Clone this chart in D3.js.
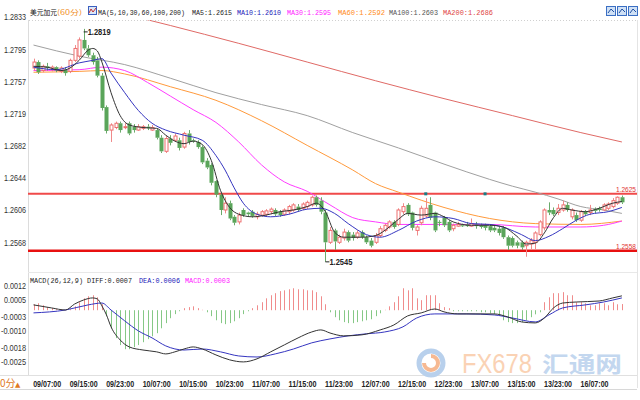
<!DOCTYPE html>
<html><head><meta charset="utf-8">
<script src="https://cdn.jsdelivr.net/npm/d3@7"></script>
<style>html,body{margin:0;padding:0;background:#fff;overflow:hidden}svg{display:block}</style>
</head><body><svg id="c" width="640" height="400"></svg>
<script>
// ---------- data (USD/CAD, 60 min bars) ----------
const opens = [1.2773,1.2780,1.2770,1.2775,1.2771,1.2774,1.2769,1.2771,1.2769,1.2782,
1.2787,1.2806,1.2796,1.2788,1.2782,1.2764,1.2727,1.2700,1.2703,1.2708,
1.2703,1.2708,1.2704,1.2700,1.2702,1.2704,1.2700,1.2700,1.2691,1.2675,
1.2690,1.2688,1.2688,1.2680,1.2696,1.2688,1.2686,1.2680,1.2664,1.2659,
1.2640,1.2624,1.2606,1.2614,1.2598,1.2592,1.2606,1.2603,1.2604,1.2598,
1.2600,1.2601,1.2604,1.2606,1.2604,1.2601,1.2604,1.2606,1.2610,1.2608,
1.2610,1.2612,1.2621,1.2617,1.2603,1.2568,1.2582,1.2568,1.2573,1.2580,
1.2577,1.2574,1.2580,1.2574,1.2570,1.2568,1.2576,1.2582,1.2586,1.2592,
1.2589,1.2604,1.2612,1.2603,1.2582,1.2591,1.2599,1.2612,1.2603,1.2592,
1.2597,1.2592,1.2584,1.2587,1.2588,1.2589,1.2587,1.2589,1.2588,1.2588,
1.2587,1.2585,1.2584,1.2585,1.2574,1.2573,1.2568,1.2568,1.2564,1.2566,
1.2568,1.2577,1.2585,1.2606,1.2606,1.2603,1.2606,1.2612,1.2598,1.2600,
1.2594,1.2604,1.2603,1.2607,1.2608,1.2606,1.2608,1.2610,1.2614,1.2621];
const closes = [1.2780,1.2768,1.2775,1.2773,1.2774,1.2770,1.2773,1.2767,1.2782,1.2796,
1.2806,1.2796,1.2788,1.2780,1.2764,1.2726,1.2699,1.2706,1.2708,1.2700,
1.2704,1.2696,1.2700,1.2704,1.2704,1.2702,1.2703,1.2691,1.2675,1.2690,
1.2685,1.2693,1.2679,1.2696,1.2686,1.2687,1.2680,1.2662,1.2656,1.2638,
1.2624,1.2606,1.2614,1.2596,1.2591,1.2600,1.2600,1.2601,1.2599,1.2601,
1.2604,1.2605,1.2607,1.2601,1.2600,1.2606,1.2610,1.2612,1.2606,1.2613,
1.2615,1.2621,1.2612,1.2604,1.2568,1.2582,1.2569,1.2574,1.2580,1.2570,
1.2573,1.2579,1.2574,1.2568,1.2564,1.2576,1.2584,1.2588,1.2592,1.2586,
1.2606,1.2610,1.2601,1.2585,1.2586,1.2608,1.2608,1.2597,1.2582,1.2591,
1.2588,1.2582,1.2588,1.2589,1.2587,1.2587,1.2590,1.2587,1.2586,1.2585,
1.2582,1.2582,1.2579,1.2574,1.2564,1.2564,1.2564,1.2562,1.2568,1.2570,
1.2579,1.2592,1.2606,1.2603,1.2601,1.2608,1.2612,1.2606,1.2606,1.2594,
1.2604,1.2601,1.2606,1.2605,1.2606,1.2612,1.2613,1.2617,1.2621,1.2615];
const highs = [1.2784,1.2782,1.2777,1.2779,1.2776,1.2775,1.2775,1.2774,1.2784,1.2800,
1.2809,1.2819,1.2800,1.2791,1.2786,1.2767,1.2729,1.2708,1.2710,1.2710,
1.2708,1.2710,1.2707,1.2707,1.2706,1.2707,1.2706,1.2702,1.2694,1.2693,
1.2694,1.2696,1.2691,1.2698,1.2700,1.2690,1.2688,1.2682,1.2667,1.2661,
1.2641,1.2626,1.2621,1.2617,1.2600,1.2603,1.2608,1.2604,1.2606,1.2604,
1.2606,1.2607,1.2609,1.2608,1.2606,1.2608,1.2612,1.2614,1.2613,1.2615,
1.2617,1.2623,1.2623,1.2621,1.2606,1.2586,1.2584,1.2577,1.2584,1.2582,
1.2580,1.2582,1.2582,1.2576,1.2573,1.2579,1.2587,1.2590,1.2594,1.2594,
1.2608,1.2614,1.2614,1.2604,1.2588,1.2611,1.2620,1.2621,1.2604,1.2594,
1.2599,1.2594,1.2590,1.2592,1.2590,1.2592,1.2596,1.2592,1.2590,1.2590,
1.2589,1.2587,1.2586,1.2587,1.2576,1.2575,1.2570,1.2570,1.2570,1.2573,
1.2581,1.2594,1.2608,1.2615,1.2609,1.2613,1.2617,1.2615,1.2608,1.2603,
1.2606,1.2606,1.2612,1.2609,1.2610,1.2614,1.2615,1.2620,1.2622,1.2623];
const lows = [1.2770,1.2766,1.2768,1.2770,1.2769,1.2768,1.2767,1.2764,1.2767,1.2780,
1.2784,1.2794,1.2786,1.2777,1.2762,1.2723,1.2696,1.2686,1.2701,1.2697,
1.2701,1.2694,1.2697,1.2699,1.2700,1.2700,1.2699,1.2689,1.2673,1.2673,
1.2682,1.2686,1.2676,1.2678,1.2683,1.2685,1.2678,1.2660,1.2654,1.2635,
1.2621,1.2600,1.2602,1.2594,1.2588,1.2589,1.2598,1.2599,1.2597,1.2595,
1.2598,1.2599,1.2601,1.2599,1.2598,1.2599,1.2601,1.2604,1.2604,1.2606,
1.2607,1.2610,1.2610,1.2601,1.2545,1.2566,1.2559,1.2566,1.2570,1.2568,
1.2570,1.2572,1.2572,1.2566,1.2562,1.2566,1.2574,1.2580,1.2584,1.2584,
1.2587,1.2601,1.2599,1.2582,1.2576,1.2588,1.2597,1.2594,1.2580,1.2587,
1.2586,1.2580,1.2581,1.2586,1.2586,1.2586,1.2586,1.2584,1.2584,1.2582,
1.2580,1.2580,1.2576,1.2572,1.2559,1.2562,1.2561,1.2559,1.2551,1.2559,
1.2559,1.2575,1.2582,1.2600,1.2599,1.2600,1.2604,1.2604,1.2595,1.2592,
1.2592,1.2599,1.2600,1.2602,1.2604,1.2605,1.2606,1.2608,1.2612,1.2613];

// moving averages, read at bar index: [index, value]
const ma5 = [[0,1.2775],[3,1.2774],[6,1.2770],[8,1.2773],[10,1.2782],[12,1.2794],[13,1.2796],[14,1.2793],[15,1.2780],[17,1.2744],[19,1.2717],[21,1.2706],[24,1.2703],[27,1.2702],[29,1.2694],[31,1.2687],[33,1.2684],[35,1.2687],[37,1.2683],[39,1.2664],[41,1.2629],[43,1.2609],[45,1.2601],[48,1.2598],[51,1.2600],[54,1.2604],[57,1.2606],[60,1.2610],[62,1.2614],[64,1.2604],[66,1.2580],[68,1.2574],[72,1.2574],[75,1.2576],[78,1.2586],[80,1.2595],[82,1.2602],[85,1.2600],[88,1.2602],[90,1.2598],[92,1.2592],[96,1.2588],[100,1.2588],[103,1.2586],[106,1.2575],[108,1.2566],[110,1.2567],[112,1.2579],[114,1.2597],[116,1.2608],[118,1.2606],[121,1.2604],[124,1.2608],[127,1.2614],[129,1.2616]];
const ma10 = [[0,1.2774],[5,1.2771],[10,1.2779],[13,1.2782],[15,1.2784],[17,1.2767],[20,1.2744],[23,1.2723],[26,1.2708],[29,1.2700],[33,1.2694],[37,1.2688],[40,1.2670],[42,1.2653],[44,1.2632],[46,1.2614],[49,1.2601],[52,1.2598],[56,1.2601],[60,1.2607],[63,1.2608],[66,1.2602],[69,1.2590],[73,1.2577],[76,1.2574],[80,1.2582],[84,1.2593],[88,1.2598],[92,1.2596],[96,1.2590],[100,1.2589],[104,1.2584],[107,1.2577],[110,1.2570],[113,1.2575],[116,1.2584],[119,1.2594],[122,1.2601],[126,1.2604],[129,1.2609]];
const ma30 = [[0,1.2770],[10,1.2771],[15,1.2774],[20,1.2770],[25,1.2756],[30,1.2740],[35,1.2724],[40,1.2709],[45,1.2686],[50,1.2659],[55,1.2639],[60,1.2628],[65,1.2612],[70,1.2597],[75,1.2592],[80,1.2589],[90,1.2589],[100,1.2589],[110,1.2586],[120,1.2586],[125,1.2588],[129,1.2593]];
const ma60 = [[0,1.2768],[10,1.2769],[15,1.2770],[20,1.2766],[30,1.2751],[40,1.2735],[50,1.2711],[60,1.2682],[70,1.2653],[75,1.2637],[80,1.2627],[90,1.2609],[100,1.2596],[110,1.2590],[120,1.2589],[129,1.2593]];
const ma100 = [[0,1.2800],[10,1.2787],[20,1.2777],[30,1.2761],[40,1.2744],[50,1.2730],[60,1.2717],[70,1.2697],[80,1.2679],[90,1.2660],[100,1.2642],[105,1.2634],[110,1.2627],[115,1.2619],[120,1.2610],[125,1.2606],[129,1.2602]];
const ma200 = [[0,1.2863],[15,1.2843],[30,1.2823],[45,1.2802],[60,1.2780],[75,1.2758],[90,1.2737],[105,1.2717],[120,1.2697],[129,1.2686]];

// MACD(26,12,9)
const macdHist = [0.00029,0.00034,0.00024,0.00015,0.0001,0.00005,0.00005,0.00002,0.00005,0.00019,
0.00039,0.00058,0.00068,0.00073,0.00063,0.00029,-0.00029,-0.00088,-0.00136,-0.0017,
-0.0019,-0.0019,-0.0018,-0.0017,-0.00156,-0.00141,-0.00127,-0.00112,-0.00088,-0.00063,
-0.00039,-0.00019,-0.00005,0.0001,0.00015,0.00019,0.0001,0.00002,-0.0001,-0.00029,
-0.00049,-0.00063,-0.00068,-0.00063,-0.00054,-0.00039,-0.00019,-0.00005,0.0001,0.00024,
0.00039,0.00058,0.00073,0.00083,0.00093,0.00097,0.00102,0.00107,0.00102,0.00102,
0.00097,0.00097,0.00088,0.00068,0.00029,-0.0001,-0.00034,-0.00049,-0.00058,-0.00063,
-0.00063,-0.00058,-0.00054,-0.00049,-0.00044,-0.00029,-0.00015,0.00002,0.00019,0.00039,
0.00068,0.00107,0.00097,0.00107,0.00058,0.00049,0.00073,0.00073,0.00073,0.00034,
0.00015,0.0001,-0.00005,-0.00005,-0.00005,-0.00005,-0.00005,-0.00005,-0.0001,-0.0001,
-0.00015,-0.00019,-0.00019,-0.00049,-0.00058,-0.00063,-0.00063,-0.00058,-0.00049,-0.00034,
-0.0002,-0.0001,0.00039,0.00063,0.00083,0.00083,0.00088,0.00073,0.00073,0.00039,
0.00039,0.00034,0.00024,0.00024,0.00034,0.00034,0.00024,0.00039,0.00029,0.0003];
const diffLine = [[0,0.00026],[4,0.00011],[7,0.00001],[9,0.0003],[11,0.0005],[13,0.0006],[14,0.00055],[15,0.00021],[16,-0.00023],[17,-0.00081],[19,-0.00145],[21,-0.00179],[24,-0.00194],[27,-0.00203],[29,-0.00213],[31,-0.00203],[33,-0.00189],[35,-0.00179],[37,-0.00189],[40,-0.00218],[43,-0.00242],[46,-0.00252],[49,-0.00237],[52,-0.00203],[55,-0.00169],[58,-0.00135],[61,-0.00106],[63,-0.00096],[65,-0.00111],[68,-0.00125],[72,-0.0012],[76,-0.00096],[79,-0.00072],[82,-0.00028],[85,-0.00013],[88,0.00006],[90,-0.00008],[93,-0.00018],[97,-0.00018],[101,-0.00018],[104,-0.00033],[107,-0.00057],[110,-0.00062],[112,-0.00038],[114,0.00011],[116,0.00035],[119,0.0004],[124,0.00045],[127,0.0006],[129,0.0007]];
const deaLine = [[0,-0.00013],[7,0.00001],[12,0.00026],[15,0.00035],[17,0.00001],[20,-0.00052],[23,-0.00101],[26,-0.00135],[29,-0.00174],[33,-0.00194],[37,-0.00189],[41,-0.00203],[45,-0.00223],[49,-0.00228],[53,-0.00213],[57,-0.00189],[61,-0.00159],[65,-0.0014],[69,-0.00125],[73,-0.00115],[77,-0.00106],[81,-0.00081],[84,-0.00038],[88,-0.00018],[95,-0.00018],[101,-0.00023],[105,-0.00038],[110,-0.00057],[113,-0.00023],[116,0.00011],[121,0.00026],[125,0.0004],[129,0.0006]];

const priceTicks = [1.2833,1.2795,1.2757,1.2719,1.2682,1.2644,1.2606,1.2568];
const macdTicks = [0.0012,0.0005,-0.0003,-0.0010,-0.0018,-0.0025];
const xTickIndex = [3,11,19,27,35,43,51,59,67,75,83,91,99,107,115,123];
const xTickLabels = ["09/07:00","09/15:00","09/23:00","10/07:00","10/15:00","10/23:00","11/07:00","11/15:00","11/23:00","12/07:00","12/15:00","12/23:00","13/07:00","13/15:00","13/23:00","16/07:00"];
const levelLines = [1.2625, 1.2558];
const highMark = {i:11, v:1.2819}, lowMark = {i:64, v:1.2545};
const maLegend = [["MA5",1.2615],["MA10",1.2610],["MA30",1.2595],["MA60",1.2592],["MA100",1.2603],["MA200",1.2686]];
const macdLegend = [["DIFF",0.0007],["DEA",0.0006],["MACD",0.0003]];

// ---------- drawing ----------
const svg = d3.select("#c");
const L = 28, R = 637;
const n = opens.length;
const x = d3.scaleLinear().domain([0, n-1]).range([33.5, 621.9]);
const y = d3.scaleLinear().domain([1.2568, 1.2795]).range([242.3, 49.3]);
const ym = d3.scaleLinear().domain([-0.0025, 0.0012]).range([361.5, 285.6]);

function fitW(sel, w){ sel.attr("textLength", w).attr("lengthAdjust","spacingAndGlyphs"); }

const defs = svg.append("defs");
defs.append("clipPath").attr("id","cm").append("rect").attr("x",L).attr("y",20).attr("width",R-L).attr("height",252);
defs.append("clipPath").attr("id","cd").append("rect").attr("x",L).attr("y",276).attr("width",R-L).attr("height",99);

// frame lines
svg.append("line").attr("x1",L+0.5).attr("x2",L+0.5).attr("y1",20).attr("y2",376).attr("stroke","#dcdcdc");
svg.append("line").attr("x1",R+0.5).attr("x2",R+0.5).attr("y1",20).attr("y2",388).attr("stroke","#e4e4e4");
svg.append("line").attr("x1",L).attr("x2",R).attr("y1",272.5).attr("y2",272.5).attr("stroke","#e8e8e8");
svg.append("line").attr("x1",0).attr("x2",R).attr("y1",375.5).attr("y2",375.5).attr("stroke","#e0e0e0");
svg.append("line").attr("x1",0).attr("x2",R).attr("y1",389.5).attr("y2",389.5).attr("stroke","#d8d8d8");

// watermark (behind MACD)
const wm = svg.append("g");
wm.append("circle").attr("cx",431).attr("cy",363).attr("r",12).attr("fill","none").attr("stroke","#b8d0ec").attr("stroke-width",5);
wm.append("path").attr("d","M424,363 a7,7 0 1 0 7,-7").attr("fill","none").attr("stroke","#f6b992").attr("stroke-width",4);
wm.append("text").attr("x",462).attr("y",373).attr("font-family","Liberation Sans, Arial").attr("font-size",27).attr("fill","#fad2b4").text("FX678").call(fitW,70);
wm.append("text").attr("x",542).attr("y",372).attr("font-family","Noto Sans CJK SC").attr("font-size",22).attr("font-weight","bold").attr("fill","#c3d7ef").text("汇通网").call(fitW,80);

// y axis labels
svg.append("g").selectAll("text").data(priceTicks).join("text")
  .attr("x",26).attr("y",d=>y(d)+3.5).attr("text-anchor","end")
  .attr("font-family","Liberation Sans, Arial").attr("font-size",8.5).attr("fill","#333")
  .text(d=>d.toFixed(4)).call(fitW,22);
svg.append("g").selectAll("text").data(macdTicks).join("text")
  .attr("x",26).attr("y",d=>ym(d)+3.5).attr("text-anchor","end")
  .attr("font-family","Liberation Sans, Arial").attr("font-size",8.5).attr("fill","#333")
  .text(d=>d.toFixed(4)).each(function(d){ d3.select(this).attr("textLength", d<0?25:22).attr("lengthAdjust","spacingAndGlyphs"); });

// x axis labels
svg.append("g").selectAll("text").data(xTickIndex).join("text")
  .attr("x",d=>x(d)).attr("y",387).attr("text-anchor","middle")
  .attr("font-family","Liberation Sans, Arial").attr("font-size",8.5).attr("font-weight","bold").attr("fill","#222")
  .text((d,i)=>xTickLabels[i]).call(fitW,28);
svg.append("text").attr("x",0).attr("y",387).attr("font-family","Noto Sans CJK SC").attr("font-size",10).attr("fill","#e07a1f").text("0分");
svg.append("text").attr("x",15).attr("y",387).attr("font-family","DejaVu Sans").attr("font-size",7).attr("fill","#e07a1f").text("▲");

// main panel
const gm = svg.append("g").attr("clip-path","url(#cm)");
gm.append("line").attr("x1",L).attr("x2",R).attr("y1",y(levelLines[0])).attr("y2",y(levelLines[0])).attr("stroke","#f04a4a").attr("stroke-width",2);
gm.append("line").attr("x1",L).attr("x2",R).attr("y1",y(levelLines[1])).attr("y2",y(levelLines[1])).attr("stroke","#e81010").attr("stroke-width",2.5);

const line = d3.line().x(d=>x(d[0])).y(d=>y(d[1])).curve(d3.curveMonotoneX);
[[ma200,"#e06a66"],[ma100,"#a0a0a0"],[ma60,"#ff9a3c"],[ma30,"#ff3cff"]].forEach(([d,c])=>{
  gm.append("path").attr("d",line(d)).attr("fill","none").attr("stroke",c).attr("stroke-width",1);
});

// candles
const bw = 3;
const cg = gm.append("g");
d3.range(n).forEach(i=>{
  const up = closes[i] >= opens[i];
  const col = up ? "#ee6e6e" : "#4f9a4f";
  const top = y(Math.max(opens[i],closes[i])), bot = y(Math.min(opens[i],closes[i]));
  const cx = Math.round(x(i)) + 0.5;
  cg.append("line").attr("x1",cx).attr("x2",cx).attr("y1",y(highs[i])).attr("y2",top).attr("stroke",up?"#f08a8a":"#6aaa6a");
  cg.append("line").attr("x1",cx).attr("x2",cx).attr("y1",bot).attr("y2",y(lows[i])).attr("stroke",up?"#f08a8a":"#6aaa6a");
  if (up) cg.append("rect").attr("x",cx-bw/2).attr("y",top).attr("width",bw).attr("height",Math.max(1,bot-top)).attr("fill","#fff").attr("stroke",col).attr("stroke-width",1);
  else cg.append("rect").attr("x",cx-bw/2-0.5).attr("y",top).attr("width",bw+1).attr("height",Math.max(1,bot-top)).attr("fill","#5aa55a");
});

[[ma10,"#3535c0"],[ma5,"#333"]].forEach(([d,c])=>{
  gm.append("path").attr("d",line(d)).attr("fill","none").attr("stroke",c).attr("stroke-width",1);
});

// markers on upper level line
[86,99].forEach(i=>{ gm.append("rect").attr("x",x(i)-1.5).attr("y",y(levelLines[0])-1.5).attr("width",3).attr("height",3).attr("fill","#1a7d86"); });

// level labels
levelLines.forEach(v=>{
  svg.append("text").attr("x",636).attr("y",y(v)-2).attr("text-anchor","end").attr("font-family","Liberation Sans, Arial").attr("font-size",8).attr("fill","#e03030").text(v.toFixed(4)).call(fitW,20);
});

// high / low marks
function mark(m, dy){
  const mx = x(m.i), my = y(m.v);
  svg.append("line").attr("x1",mx).attr("x2",mx+4).attr("y1",my+dy).attr("y2",my+dy).attr("stroke","#222");
  svg.append("text").attr("x",mx+4).attr("y",my+dy+3.5).attr("font-family","Liberation Sans, Arial").attr("font-size",9.5).attr("font-weight","bold").attr("fill","#222").text(m.v.toFixed(4)).call(fitW,23);
}
mark(highMark, 3);
mark(lowMark, 0);

// legend (top)
const lg = svg.append("g");
lg.append("rect").attr("x",L+1).attr("y",0).attr("width",R-L).attr("height",20).attr("fill","#fff");
lg.append("line").attr("x1",L+1).attr("x2",R).attr("y1",20.5).attr("y2",20.5).attr("stroke","#d0d0d0").attr("stroke-dasharray","1,2");
const lgFont = "Liberation Mono, DejaVu Sans Mono, monospace";
lg.append("text").attr("x",30).attr("y",15).attr("font-family","Noto Sans CJK SC").attr("font-size",7).attr("fill","#111").text("美元加元").call(fitW,27);
lg.append("text").attr("x",57).attr("y",15).attr("font-family","Noto Sans CJK SC").attr("font-size",7).attr("fill","#f0902a").text("(60分)").call(fitW,25);
lg.append("rect").attr("x",88.5).attr("y",6.5).attr("width",8).attr("height",8).attr("fill","#dbe6f7").attr("stroke","#3a5fc0");
lg.append("path").attr("d","M89,13 L91,9 L93,12 L96,8").attr("fill","none").attr("stroke","#c03030");
lg.append("text").attr("x",98).attr("y",15).attr("font-family",lgFont).attr("font-size",7).attr("fill","#222").text("MA(5,10,30,60,100,200)").call(fitW,87);
const lgCols = ["#222","#2020b8","#ff20ff","#ff8c1a","#555","#e04545"];
const lgX = [192,237,287,338,389,443], lgW=[40,44,44,47,49,50];
maLegend.forEach((m,k)=>{
  lg.append("text").attr("x",lgX[k]).attr("y",15).attr("font-family",lgFont).attr("font-size",7).attr("fill",lgCols[k]).text(m[0]+":"+m[1].toFixed(4)).call(fitW,lgW[k]);
});
[606,617,628].forEach((ix,k)=>{
  lg.append("rect").attr("x",ix+0.5).attr("y",6.5).attr("width",9).attr("height",9).attr("fill","#cfe0f5").attr("stroke","#3b6fc4");
  lg.append("path").attr("d",`M${ix+2},${13} L${ix+5},${9} L${ix+8},${12}`).attr("fill","none").attr("stroke","#1f4fa0");
});

// MACD panel
const gd = svg.append("g").attr("clip-path","url(#cd)");
gd.selectAll("line.h").data(macdHist).join("line")
  .attr("x1",(d,i)=>Math.round(x(i))+0.5).attr("x2",(d,i)=>Math.round(x(i))+0.5)
  .attr("y1",ym(0)).attr("y2",d=>ym(d))
  .attr("stroke",d=>d>=0?"#f08c8c":"#86c886").attr("stroke-width",1);
const mline = d3.line().x(d=>x(d[0])).y(d=>ym(d[1])).curve(d3.curveMonotoneX);
gd.append("path").attr("d",mline(deaLine)).attr("fill","none").attr("stroke","#3535c0").attr("stroke-width",1);
gd.append("path").attr("d",mline(diffLine)).attr("fill","none").attr("stroke","#333").attr("stroke-width",1);

// MACD legend
svg.append("text").attr("x",30).attr("y",283).attr("font-family",lgFont).attr("font-size",7).attr("fill","#222").text("MACD(26,12,9) "+macdLegend[0][0]+":"+macdLegend[0][1].toFixed(4)).call(fitW,102);
svg.append("text").attr("x",139).attr("y",283).attr("font-family",lgFont).attr("font-size",7).attr("fill","#2020b8").text(macdLegend[1][0]+":"+macdLegend[1][1].toFixed(4)).call(fitW,41);
svg.append("text").attr("x",185).attr("y",283).attr("font-family",lgFont).attr("font-size",7).attr("fill","#ff20ff").text(macdLegend[2][0]+":"+macdLegend[2][1].toFixed(4)).call(fitW,45);
</script></body></html>
